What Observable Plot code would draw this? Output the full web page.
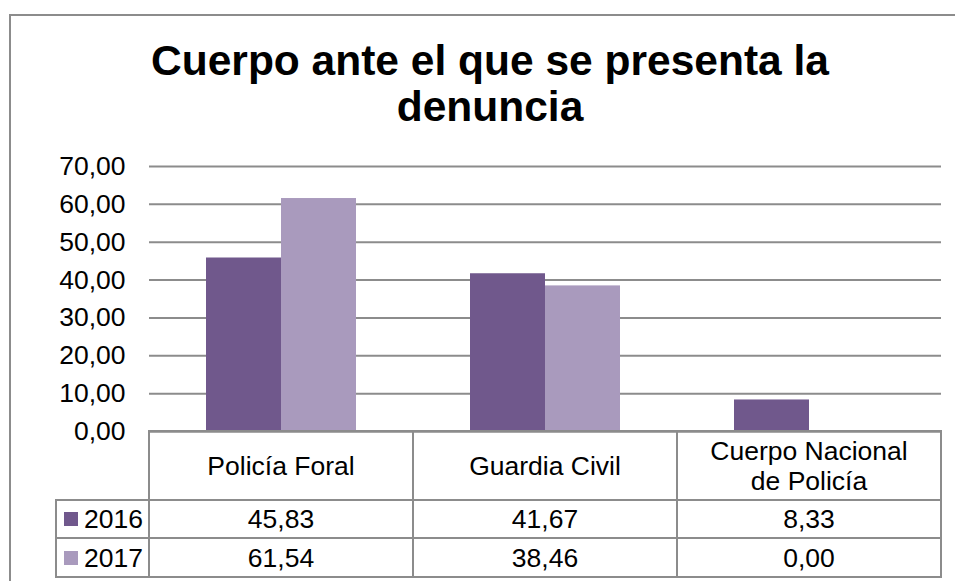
<!DOCTYPE html>
<html>
<head>
<meta charset="utf-8">
<script src="https://cdn.jsdelivr.net/npm/d3@7"></script>
<script src="https://cdn.jsdelivr.net/npm/@observablehq/plot@0.6"></script>
<style>
  html, body { margin: 0; padding: 0; background: #fff; }
  #wrap { position: relative; width: 955px; height: 581px; overflow: hidden; font-family: "Liberation Sans", Arial, sans-serif; color: #000; }
  #wrap svg { position: absolute; left: 0; top: 0; }
  #frame { position: absolute; left: 9px; top: 14px; width: 1000px; height: 1000px; border-left: 2px solid #8c8c8c; border-top: 2px solid #8c8c8c; box-sizing: border-box; }
  #title { position: absolute; left: 9px; width: 962px; top: 38px; text-align: center; font-weight: bold; font-size: 42.5px; line-height: 46px; }
  .cell { position: absolute; box-sizing: border-box; border: 2px solid #8c8c8c; display: flex; align-items: center; justify-content: center; text-align: center; font-size: 26.5px; line-height: 30px; }
  .cell .lbl { max-width: 212px; }
  .leg { justify-content: flex-start; padding-left: 7px; }
  .sw { width: 14px; height: 14px; margin-right: 6px; display: inline-block; }
</style>
</head>
<body>
<div id="wrap"></div>
<script>
// ---- data ----
const titleLines = ["Cuerpo ante el que se presenta la", "denuncia"];
const categories = ["Policía Foral", "Guardia Civil", "Cuerpo Nacional de Policía"];
const years = ["2016", "2017"];
const values2016 = [45.83, 41.67, 8.33];
const values2017 = [61.54, 38.46, 0.00];
const yTicks = [0, 10, 20, 30, 40, 50, 60, 70];
const colors = ["#70588c", "#a99abd"];

const fmt = d => d.toFixed(2).replace(".", ",");
const series = {"2016": values2016, "2017": values2017};
const data = [];
categories.forEach((c, i) => years.forEach(y => data.push({cat: c, year: y, value: series[y][i]})));

const gray = "#8c8c8c";
const W = 955, H = 581;
const mL = 149, mR = 14, mT = 166, mB = 150;

const chart = Plot.plot({
  width: W, height: H,
  marginLeft: mL, marginRight: mR, marginTop: mT, marginBottom: mB,
  style: {fontFamily: "'Liberation Sans', Arial, sans-serif", fontSize: "26.5px", background: "transparent", color: "#000"},
  fx: {domain: categories, padding: 0, axis: null},
  x: {domain: years, paddingInner: 0, paddingOuter: 0.76, axis: null},
  y: {domain: [0, 70], axis: null},
  color: {domain: years, range: colors},
  marks: [
    Plot.ruleY(yTicks, {stroke: gray, strokeWidth: 2, strokeOpacity: 1}),
    Plot.barY(data, {fx: "cat", x: "year", y: "value", fill: "year", inset: 0}),
    Plot.ruleY([0], {stroke: gray, strokeWidth: 2}),
    Plot.axisY(yTicks, {tickSize: 0, tickPadding: 24, tickFormat: fmt, line: true, stroke: gray, strokeWidth: 2, fill: "#000", label: null})
  ]
});

const wrap = document.getElementById("wrap");
wrap.appendChild(chart);

const frame = document.createElement("div");
frame.id = "frame";
wrap.appendChild(frame);

const title = document.createElement("div");
title.id = "title";
title.innerHTML = titleLines.join("<br>");
wrap.appendChild(title);

// ---- data table under the chart ----
const colX = [56, 149, 413, 677, 941];
const rowY = [431, 500, 538, 577];
function cell(x0, x1, y0, y1, cls) {
  const d = document.createElement("div");
  d.className = "cell" + (cls ? " " + cls : "");
  d.style.left = (x0 - 1) + "px";
  d.style.top = (y0 - 1) + "px";
  d.style.width = (x1 - x0 + 2) + "px";
  d.style.height = (y1 - y0 + 2) + "px";
  wrap.appendChild(d);
  return d;
}
categories.forEach((c, i) => {
  const d = cell(colX[i + 1], colX[i + 2], rowY[0], rowY[1]);
  const s = document.createElement("span");
  s.className = "lbl";
  s.textContent = c;
  d.appendChild(s);
});
years.forEach((y, r) => {
  const lg = cell(colX[0], colX[1], rowY[r + 1], rowY[r + 2], "leg");
  const sw = document.createElement("span");
  sw.className = "sw";
  sw.style.background = colors[r];
  lg.appendChild(sw);
  lg.appendChild(document.createTextNode(y));
  categories.forEach((c, i) => {
    const d = cell(colX[i + 1], colX[i + 2], rowY[r + 1], rowY[r + 2]);
    d.textContent = fmt(series[y][i]);
  });
});
</script>
</body>
</html>
